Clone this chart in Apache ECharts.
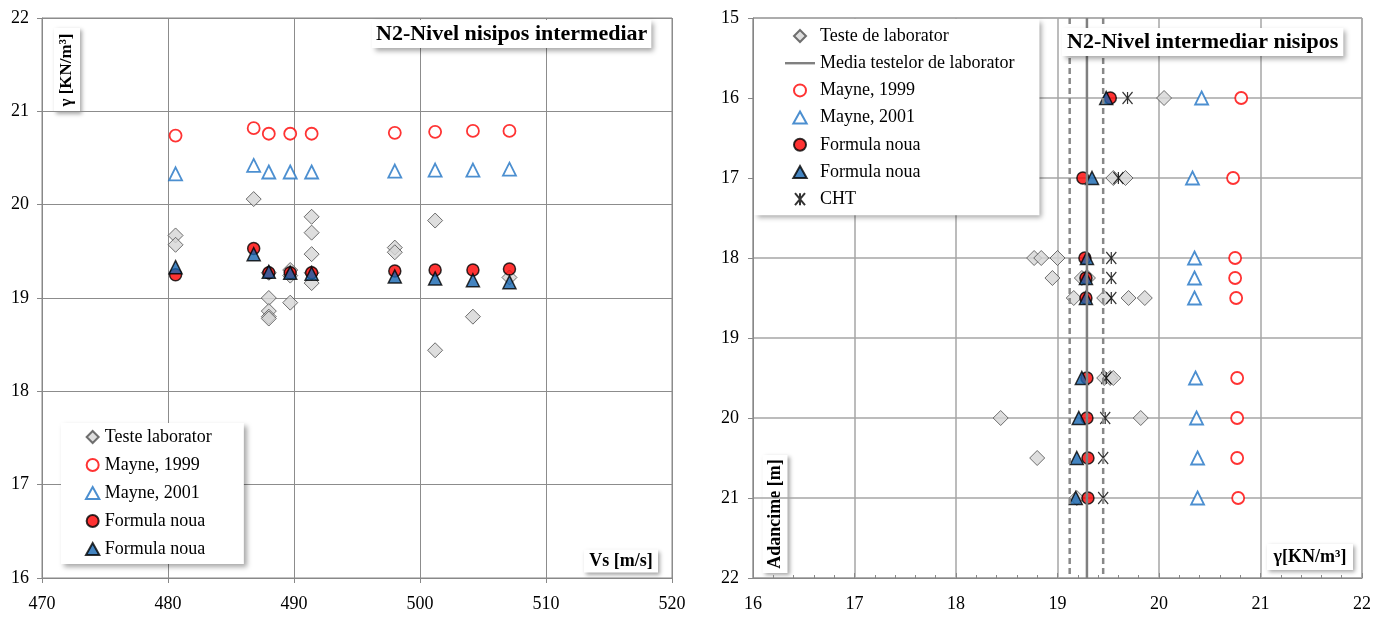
<!DOCTYPE html>
<html>
<head>
<meta charset="utf-8">
<script src="https://cdn.jsdelivr.net/npm/echarts@6/dist/echarts.min.js"></script>
<style>
  html, body { margin: 0; padding: 0; background: #fff; }
  #chart { width: 1384px; height: 617px; }
</style>
</head>
<body>
<div id="chart"></div>
<script>
// ---- left chart: gamma vs Vs ----
var vsValues = [480.6, 486.8, 488.0, 489.7, 491.4, 498.0, 501.2, 504.2, 507.1];
var leftMayne1999 = [20.74, 20.82, 20.76, 20.76, 20.76, 20.77, 20.78, 20.79, 20.79];
var leftMayne2001 = [20.33, 20.42, 20.35, 20.35, 20.35, 20.36, 20.37, 20.37, 20.38];
var leftFormulaCircle = [19.25, 19.53, 19.27, 19.27, 19.27, 19.29, 19.30, 19.30, 19.31];
var leftFormulaTriangle = [19.33, 19.47, 19.28, 19.27, 19.26, 19.23, 19.21, 19.19, 19.17];
var leftLabVs = [480.6, 480.6, 486.8, 488.0, 488.0, 488.0, 488.0, 488.0, 489.7, 489.7, 489.7,
  491.4, 491.4, 491.4, 491.4, 491.4, 498.0, 498.0, 501.2, 501.2, 504.2, 507.1];
var leftLabGamma = [19.67, 19.57, 20.06, 19.00, 18.86, 18.80, 18.78, 19.27, 19.30, 19.24, 18.95,
  19.87, 19.70, 19.47, 19.16, 19.27, 19.54, 19.49, 19.83, 18.44, 18.80, 19.22];

// ---- right chart: depth vs gamma ----
var depths = [16, 17, 18, 18.25, 18.5, 19.5, 20, 20.5, 21];
var rightMayne1999 = [20.81, 20.73, 20.75, 20.75, 20.76, 20.77, 20.77, 20.77, 20.78];
var rightMayne2001 = [20.42, 20.33, 20.35, 20.35, 20.35, 20.36, 20.37, 20.38, 20.38];
var rightFormulaCircle = [19.52, 19.25, 19.27, 19.28, 19.28, 19.29, 19.29, 19.30, 19.30];
var rightFormulaTriangle = [19.48, 19.34, 19.29, 19.28, 19.28, 19.24, 19.21, 19.19, 19.18];
var rightCHT = [19.69, 19.60, 19.53, 19.53, 19.53, 19.48, 19.47, 19.45, 19.45];
var rightLabDepth = [16, 17, 17, 18, 18, 18, 18.25, 18.25, 18.25, 18.5, 18.5, 18.5, 18.5,
  19.5, 19.5, 19.5, 20, 20, 20.5, 21];
var rightLabGamma = [20.05, 19.55, 19.67, 18.77, 18.84, 19.00, 18.95, 19.24, 19.30, 19.16, 19.46, 19.70, 19.86,
  19.46, 19.52, 19.55, 18.44, 19.82, 18.80, 19.19];
var labMean = 19.29;
var labBand = [19.12, 19.45];

var serif = "Liberation Serif";
var chart = echarts.init(document.getElementById("chart"));

function pairs(xs, ys) {
  return xs.map(function (x, i) { return [x, ys[i]]; });
}
function vline(v) {
  return [[v, 15], [v, 22]];
}

var asterisk = "path://M0,0L10,12M10,0L0,12M5,0L5,12";
// legend icons (paths keep their aspect, built-in symbols get stretched)
var iconDiamond = "path://M5,0L10,5L5,10L0,5Z";
var iconTriangle = "path://M5,0L10,9L0,9Z";
var iconLine = "path://M0,0L30,0L30,2.4L0,2.4Z";

var styles = {
  lab: { color: "#d6d6d6", borderColor: "#4d4d4d", borderWidth: 1 },
  m99: { color: "#ffffff", borderColor: "#ff0000", borderWidth: 1.8 },
  m01: { color: "#ffffff", borderColor: "#1f73c4", borderWidth: 1.8 },
  fc: { color: "#ff0000", borderColor: "#000", borderWidth: 1.5 },
  ft: { color: "#1565b0", borderColor: "#000", borderWidth: 1.5 },
};

function boxLabel(cx, cy, w, h, text, rot, size) {
  return {
    type: "group",
    x: cx,
    y: cy,
    rotation: rot || 0,
    z: 100,
    children: [
      {
        type: "rect",
        shape: { x: -w / 2, y: -h / 2, width: w, height: h },
        style: {
          fill: "#fff",
          shadowBlur: 4,
          shadowColor: "rgba(0,0,0,0.35)",
          shadowOffsetX: 2,
          shadowOffsetY: 2,
        },
      },
      {
        type: "text",
        style: {
          text: text,
          x: 0,
          y: 0,
          align: "center",
          verticalAlign: "middle",
          font: "bold " + size + "px " + serif,
          fill: "#000",
        },
      },
    ],
  };
}

var axisLabelStyle = { color: "#000", fontFamily: serif, fontSize: 18 };
var legendText = { fontFamily: serif, fontSize: 18, color: "#000" };
var shadow = {
  backgroundColor: "#fff",
  shadowBlur: 5,
  shadowColor: "rgba(0,0,0,0.35)",
  shadowOffsetX: 3,
  shadowOffsetY: 3,
};

chart.setOption({
  animation: false,
  textStyle: { fontFamily: serif },
  title: [
    Object.assign({
      text: "N2-Nivel nisipos intermediar",
      left: 372,
      top: 20,
      padding: [3, 4],
      textStyle: { fontFamily: serif, fontWeight: "bold", fontSize: 22, color: "#000" },
    }, shadow),
    Object.assign({
      text: "N2-Nivel intermediar nisipos",
      left: 1062,
      top: 28,
      padding: [3, 5],
      textStyle: { fontFamily: serif, fontWeight: "bold", fontSize: 22, color: "#000" },
    }, shadow),
  ],
  legend: [
    Object.assign({
      orient: "vertical",
      left: 61,
      top: 423,
      padding: [5, 32, 6, 24],
      itemWidth: 14,
      itemHeight: 12,
      itemGap: 10,
      symbolKeepAspect: true,
      textStyle: legendText,
      data: [
        { name: "Teste laborator", icon: iconDiamond },
        "Mayne, 1999",
        { name: "Mayne, 2001", icon: iconTriangle },
        "Formula noua",
        { name: "Formula noua ", icon: iconTriangle },
      ],
    }, shadow),
    Object.assign({
      orient: "vertical",
      left: 754,
      top: 19,
      padding: [8, 25, 7, 31],
      itemWidth: 30,
      itemHeight: 12,
      itemGap: 9.2,
      symbolKeepAspect: true,
      textStyle: legendText,
      data: [
        { name: "Teste de laborator", icon: iconDiamond },
        { name: "Media testelor de laborator", icon: iconLine },
        "Mayne, 1999",
        { name: "Mayne, 2001", icon: iconTriangle },
        "Formula noua",
        { name: "Formula noua ", icon: iconTriangle },
        "CHT",
      ],
    }, shadow),
  ],
  grid: [
    { left: 42, top: 18, width: 630, height: 560, show: true, borderColor: "#888", borderWidth: 1 },
    { left: 753, top: 18, width: 609, height: 560, show: true, borderColor: "#999", borderWidth: 1 },
  ],
  xAxis: [
    {
      gridIndex: 0,
      type: "value",
      min: 470,
      max: 520,
      interval: 10,
      axisLine: { lineStyle: { color: "#888" } },
      axisTick: { show: true, length: 5, lineStyle: { color: "#888" } },
      axisLabel: Object.assign({ margin: 17 }, axisLabelStyle),
      splitLine: { lineStyle: { color: "#8c8c8c", width: 1 } },
    },
    {
      gridIndex: 1,
      type: "value",
      min: 16,
      max: 22,
      interval: 1,
      axisLine: { lineStyle: { color: "#888" } },
      axisTick: { show: true, inside: true, length: 5, lineStyle: { color: "#888" } },
      minorTick: { show: true, splitNumber: 5, length: 3, lineStyle: { color: "#888" } },
      axisLabel: Object.assign({ margin: 17 }, axisLabelStyle),
      splitLine: { lineStyle: { color: "#a6a6a6", width: 1.5 } },
    },
  ],
  yAxis: [
    {
      gridIndex: 0,
      type: "value",
      min: 16,
      max: 22,
      interval: 1,
      axisLine: { show: true, lineStyle: { color: "#888" } },
      axisTick: { show: true, length: 5, lineStyle: { color: "#888" } },
      axisLabel: Object.assign({ margin: 13 }, axisLabelStyle),
      splitLine: { lineStyle: { color: "#8c8c8c", width: 1 } },
    },
    {
      gridIndex: 1,
      type: "value",
      inverse: true,
      min: 15,
      max: 22,
      interval: 1,
      axisLine: { show: true, lineStyle: { color: "#888" } },
      axisTick: { show: true, length: 5, lineStyle: { color: "#888" } },
      axisLabel: Object.assign({ margin: 14 }, axisLabelStyle),
      splitLine: { lineStyle: { color: "#a6a6a6", width: 1.5 } },
    },
  ],
  graphic: [
    boxLabel(67, 70, 84, 26, "\u03b3 [KN/m\u00b3]", Math.PI / 2, 17),
    boxLabel(621, 561, 74, 23, "Vs [m/s]", 0, 18),
    boxLabel(775, 514, 118, 25, "Adancime [m]", Math.PI / 2, 18),
    boxLabel(1310, 557, 86, 26, "\u03b3[KN/m\u00b3]", 0, 18),
  ],
  series: [
    // left chart
    {
      name: "Teste laborator", type: "scatter", xAxisIndex: 0, yAxisIndex: 0,
      symbol: "diamond", symbolSize: 15, itemStyle: styles.lab,
      data: pairs(leftLabVs, leftLabGamma),
    },
    {
      name: "Mayne, 1999", type: "scatter", xAxisIndex: 0, yAxisIndex: 0,
      symbol: "circle", symbolSize: 12, itemStyle: styles.m99,
      data: pairs(vsValues, leftMayne1999),
    },
    {
      name: "Mayne, 2001", type: "scatter", xAxisIndex: 0, yAxisIndex: 0,
      symbol: "triangle", symbolSize: 13, itemStyle: styles.m01,
      data: pairs(vsValues, leftMayne2001),
    },
    {
      name: "Formula noua", type: "scatter", xAxisIndex: 0, yAxisIndex: 0,
      symbol: "circle", symbolSize: 12, itemStyle: styles.fc,
      data: pairs(vsValues, leftFormulaCircle),
    },
    {
      name: "Formula noua ", type: "scatter", xAxisIndex: 0, yAxisIndex: 0,
      symbol: "triangle", symbolSize: 13, itemStyle: styles.ft,
      data: pairs(vsValues, leftFormulaTriangle),
    },
    // right chart
    {
      name: "band", type: "line", xAxisIndex: 1, yAxisIndex: 1, symbol: "none",
      lineStyle: { color: "#888", width: 2.5, type: [6, 4] }, data: vline(labBand[0]),
    },
    {
      name: "band", type: "line", xAxisIndex: 1, yAxisIndex: 1, symbol: "none",
      lineStyle: { color: "#888", width: 2.5, type: [6, 4] }, data: vline(labBand[1]),
    },
    {
      name: "Media testelor de laborator", type: "line", xAxisIndex: 1, yAxisIndex: 1, symbol: "none",
      lineStyle: { color: "#808080", width: 2.5 }, itemStyle: { color: "#808080" },
      data: vline(labMean),
    },
    {
      name: "Teste de laborator", type: "scatter", xAxisIndex: 1, yAxisIndex: 1,
      symbol: "diamond", symbolSize: 15, itemStyle: styles.lab,
      data: pairs(rightLabGamma, rightLabDepth),
    },
    {
      name: "CHT", type: "scatter", xAxisIndex: 1, yAxisIndex: 1,
      symbol: asterisk, symbolSize: [10, 12],
      itemStyle: { color: "none", borderColor: "#000", borderWidth: 1.3 },
      data: pairs(rightCHT, depths),
    },
    {
      name: "Mayne, 1999", type: "scatter", xAxisIndex: 1, yAxisIndex: 1,
      symbol: "circle", symbolSize: 12, itemStyle: styles.m99,
      data: pairs(rightMayne1999, depths),
    },
    {
      name: "Mayne, 2001", type: "scatter", xAxisIndex: 1, yAxisIndex: 1,
      symbol: "triangle", symbolSize: 13, itemStyle: styles.m01,
      data: pairs(rightMayne2001, depths),
    },
    {
      name: "Formula noua", type: "scatter", xAxisIndex: 1, yAxisIndex: 1,
      symbol: "circle", symbolSize: 12, itemStyle: styles.fc,
      data: pairs(rightFormulaCircle, depths),
    },
    {
      name: "Formula noua ", type: "scatter", xAxisIndex: 1, yAxisIndex: 1,
      symbol: "triangle", symbolSize: 13, itemStyle: styles.ft,
      data: pairs(rightFormulaTriangle, depths),
    },
  ],
});
</script>
</body>
</html>
